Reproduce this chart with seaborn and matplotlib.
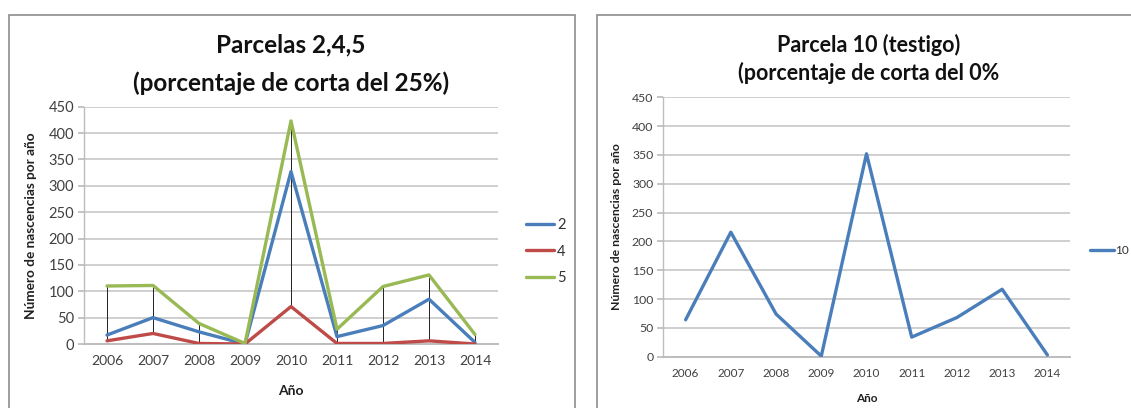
import matplotlib
matplotlib.use("Agg")
import matplotlib.pyplot as plt
import seaborn as sns
import pandas as pd
import numpy as np
from matplotlib.patches import Rectangle

# ---- data ----
years = [2006, 2007, 2008, 2009, 2010, 2011, 2012, 2013, 2014]
parcela_2 = [17, 50, 23, 0, 327, 14, 35, 85, 3]
parcela_4 = [6, 20, 1, 0, 71, 1, 1, 6, 0]
parcela_5 = [110, 111, 39, 1, 423, 28, 109, 131, 18]
parcela_10 = [64, 216, 74, 1, 352, 34, 68, 117, 3]
series_left = ["2", "4", "5"]
series_right = ["10"]
yticks = [0, 50, 100, 150, 200, 250, 300, 350, 400, 450]

title_left = ["Parcelas 2,4,5", "(porcentaje de corta del 25%)"]
title_right = ["Parcela 10 (testigo)", "(porcentaje de corta del 0%"]
ylabel = "Número de nascencias por año"
xlabel = "Año"

colors = {"2": "#4A7EBB", "4": "#BE4B48", "5": "#98B954", "10": "#4A7EBB"}

df_left = pd.DataFrame({
    "year": years * 3,
    "value": parcela_2 + parcela_4 + parcela_5,
    "serie": [series_left[0]] * 9 + [series_left[1]] * 9 + [series_left[2]] * 9,
})
df_right = pd.DataFrame({"year": years, "value": parcela_10, "serie": series_right * 9})

sns.set_theme(style="white")
plt.rcParams["font.family"] = ["Lato", "DejaVu Sans"]

W, H = 1131, 408
fig = plt.figure(figsize=(W / 100, H / 100), dpi=100)

def fx(px):
    return px / W

def fy(py):
    return 1 - py / H

# frames
fig.patches.append(Rectangle((fx(9), fy(420)), fx(575) - fx(9), fy(14.5) - fy(420),
                             transform=fig.transFigure, fill=False, edgecolor="#8c8c8c", lw=1.2))
fig.patches.append(Rectangle((fx(597), fy(420)), fx(1140) - fx(597), fy(14.5) - fy(420),
                             transform=fig.transFigure, fill=False, edgecolor="#8c8c8c", lw=1.2))

ax1 = fig.add_axes([fx(84), fy(344), fx(498) - fx(84), fy(106.7) - fy(344)])
ax2 = fig.add_axes([fx(663), fy(356.7), fx(1070) - fx(663), fy(97.3) - fy(356.7)])

# high-low lines on left chart
arr = np.array([parcela_2, parcela_4, parcela_5])
ax1.vlines(years, arr.min(axis=0), arr.max(axis=0), color="#222222", lw=0.7, zorder=2)

sns.lineplot(data=df_left, x="year", y="value", hue="serie", palette=colors,
             lw=2.4, ax=ax1, zorder=3)
sns.lineplot(data=df_right, x="year", y="value", hue="serie", palette=colors,
             lw=2.4, ax=ax2, zorder=3)

def style(ax, tick_fs_y, tick_fs_x, ylab_fs, xlab_fs):
    ax.set_xlim(2005.5, 2014.5)
    ax.set_ylim(0, 450)
    ax.set_yticks(yticks)
    ax.set_xticks(years)
    ax.set_xticklabels([str(y) for y in years])
    ax.grid(axis="y", color="#cfcfcf", lw=1.4)
    ax.grid(axis="x", visible=False)
    ax.set_axisbelow(True)
    for s in ["top", "right"]:
        ax.spines[s].set_visible(False)
    ax.spines["left"].set_color("#bdbdbd")
    ax.spines["bottom"].set_color("#bdbdbd")
    ax.spines["left"].set_linewidth(1.0)
    ax.spines["bottom"].set_linewidth(1.4)
    ax.tick_params(axis="y", length=4, color="#bdbdbd", labelsize=tick_fs_y,
                   labelcolor="#404040", pad=3, left=True)
    ax.tick_params(axis="x", length=0, labelsize=tick_fs_x, labelcolor="#404040", pad=8)
    ax.set_ylabel(ylabel, fontsize=ylab_fs, fontweight="bold", color="#202020")
    ax.set_xlabel(xlabel, fontsize=xlab_fs, fontweight="bold", color="#202020")

style(ax1, 10.5, 10, 9.8, 10)
style(ax2, 8.8, 8.5, 8.8, 8.5)
ax1.yaxis.set_label_coords((37 - 84) / (498 - 84), 0.5)
ax1.xaxis.set_label_coords(0.5, -(385 - 344) / (344 - 106.7))
ax2.yaxis.set_label_coords((622 - 663) / (1070 - 663), 0.5)
ax2.xaxis.set_label_coords(0.5, -(393 - 356.7) / (356.7 - 97.3))

# legends
h1, l1 = ax1.get_legend_handles_labels()
ax1.legend(h1, l1, loc="center left", bbox_to_anchor=(fx(519), fy(251.5)),
           bbox_transform=fig.transFigure, frameon=False, fontsize=10.5,
           handlelength=1.9, handletextpad=0.2, labelspacing=0.85, borderpad=0,
           labelcolor="#303030")
h2, l2 = ax2.get_legend_handles_labels()
ax2.legend(h2, l2, loc="center left", bbox_to_anchor=(fx(1084), fy(251)),
           bbox_transform=fig.transFigure, frameon=False, fontsize=8.5,
           handlelength=2.0, handletextpad=0.1, borderpad=0, labelcolor="#303030")

# titles
fig.text(fx(291), fy(45), title_left[0], ha="center", va="center", fontsize=17.5,
         fontweight="bold", color="#111111")
fig.text(fx(291), fy(83), title_left[1], ha="center", va="center", fontsize=17.5,
         fontweight="bold", color="#111111")
fig.text(fx(869), fy(45), title_right[0], ha="center", va="center", fontsize=15.5,
         fontweight="bold", color="#111111")
fig.text(fx(869), fy(73), title_right[1], ha="center", va="center", fontsize=15.5,
         fontweight="bold", color="#111111")

fig.savefig("out.png", dpi=100)
